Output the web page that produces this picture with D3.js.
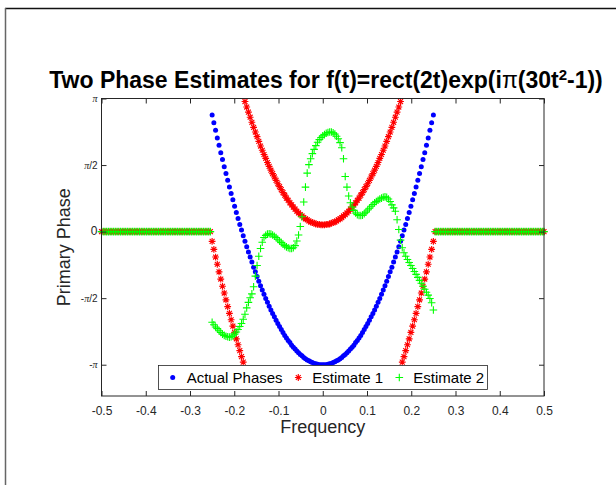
<!DOCTYPE html>
<html><head><meta charset="utf-8">
<script src="https://cdn.jsdelivr.net/npm/d3@7"></script>
<style>body{margin:0;background:#fff}svg{display:block}</style>
</head><body>
<script>
// Frequency grid: samples k/256 for k = -128..128
const freqIndexInside = d3.range(-64, 65);          // |f| <= 0.25
const freqIndexLeft = d3.range(-128, -64);          // f < -0.25
const freqIndexRight = d3.range(65, 129);           // f > 0.25
const freqStep = 1 / 256;

// Actual phases (k = -64..64)
const actualPhases = [2.75,2.57,2.39,2.21,2.04,1.86,1.70,1.53,1.37,1.21,1.05,0.90,0.75,0.60,0.45,0.31,0.17,0.04,-0.10,-0.23,-0.36,-0.48,-0.60,-0.72,-0.84,-0.95,-1.06,-1.17,-1.28,-1.38,-1.48,-1.58,-1.67,-1.76,-1.85,-1.93,-2.01,-2.09,-2.17,-2.24,-2.31,-2.38,-2.45,-2.51,-2.57,-2.62,-2.68,-2.73,-2.77,-2.82,-2.86,-2.90,-2.93,-2.97,-3.00,-3.03,-3.05,-3.07,-3.09,-3.11,-3.12,-3.13,-3.14,-3.14,
-3.14,
-3.14,-3.14,-3.13,-3.12,-3.11,-3.09,-3.07,-3.05,-3.03,-3.00,-2.97,-2.93,-2.90,-2.86,-2.82,-2.77,-2.73,-2.68,-2.62,-2.57,-2.51,-2.45,-2.38,-2.31,-2.24,-2.17,-2.09,-2.01,-1.93,-1.85,-1.76,-1.67,-1.58,-1.48,-1.38,-1.28,-1.17,-1.06,-0.95,-0.84,-0.72,-0.60,-0.48,-0.36,-0.23,-0.10,0.04,0.17,0.31,0.45,0.60,0.75,0.90,1.05,1.21,1.37,1.53,1.70,1.86,2.04,2.21,2.39,2.57,2.75];

// Estimate 1 (k = -64..64)
const estimate1 = [-0.23,-0.42,-0.60,-0.77,-0.95,-1.12,-1.29,-1.45,-1.61,-1.77,-1.93,-2.08,-2.23,-2.38,-2.53,-2.67,-2.81,-2.95,-3.08,3.07,2.94,2.82,2.70,2.58,2.46,2.35,2.24,2.13,2.02,1.92,1.82,1.73,1.63,1.54,1.45,1.37,1.29,1.21,1.13,1.06,0.99,0.92,0.86,0.79,0.74,0.68,0.63,0.58,0.53,0.48,0.44,0.40,0.37,0.33,0.30,0.28,0.25,0.23,0.21,0.20,0.18,0.17,0.17,0.16,
0.16,
0.16,0.17,0.17,0.18,0.20,0.21,0.23,0.25,0.28,0.30,0.33,0.37,0.40,0.44,0.48,0.53,0.58,0.63,0.68,0.74,0.79,0.86,0.92,0.99,1.06,1.13,1.21,1.29,1.37,1.45,1.54,1.63,1.73,1.82,1.92,2.02,2.13,2.24,2.35,2.46,2.58,2.70,2.82,2.94,3.07,-3.08,-2.95,-2.81,-2.67,-2.53,-2.38,-2.23,-2.08,-1.93,-1.77,-1.61,-1.45,-1.29,-1.12,-0.95,-0.77,-0.60,-0.42,-0.23];

// Estimate 2 (k = -64..64)
const estimate2 = [-2.14,-2.20,-2.25,-2.29,-2.34,-2.38,-2.42,-2.45,-2.47,-2.48,-2.49,-2.48,-2.46,-2.42,-2.37,-2.31,-2.24,-2.17,-2.07,-1.95,-1.80,-1.67,-1.56,-1.47,-1.30,-1.05,-0.80,-0.58,-0.40,-0.25,-0.14,-0.09,-0.06,-0.05,-0.06,-0.08,-0.11,-0.14,-0.18,-0.22,-0.26,-0.30,-0.33,-0.36,-0.38,-0.40,-0.40,-0.38,-0.33,-0.22,-0.08,0.12,0.35,0.70,1.05,1.38,1.58,1.72,1.84,1.94,2.03,2.11,2.17,2.22,
2.26,2.29,2.32,2.34,2.35,2.35,2.33,2.30,2.25,2.19,2.10,1.98,1.72,1.30,1.05,0.84,0.68,0.58,0.50,0.44,0.40,0.38,0.38,0.39,0.42,0.46,0.51,0.55,0.60,0.64,0.68,0.71,0.74,0.77,0.79,0.81,0.82,0.81,0.77,0.71,0.63,0.56,0.48,0.28,0.05,-0.20,-0.38,-0.50,-0.58,-0.66,-0.73,-0.80,-0.87,-0.94,-1.01,-1.08,-1.15,-1.22,-1.29,-1.36,-1.43,-1.50,-1.58,-1.68,-1.85];

// Outside the band both estimates read 0
const flatPhase = 0;

const xTicks = [-0.5,-0.4,-0.3,-0.2,-0.1,0,0.1,0.2,0.3,0.4,0.5];
const xTickLabels = ["-0.5","-0.4","-0.3","-0.2","-0.1","0","0.1","0.2","0.3","0.4","0.5"];
const yTicks = [-Math.PI, -Math.PI/2, 0, Math.PI/2, Math.PI];
const yTickLabels = [["-","π",""],["-","π","/2"],["","","0"],["","π","/2"],["","π",""]];
const legendLabels = ["Actual Phases","Estimate 1","Estimate 2"];
const seriesColors = ["#0000ff","#ff0000","#00ff00"];

const W = 616, H = 485;
const L = 101.5, R = 544, T = 98.5, B = 396;
const svg = d3.select("body").append("svg").attr("width", W).attr("height", H)
  .style("font-family", "Arial, 'Liberation Sans', Helvetica, sans-serif");

// figure frame (top and left edges)
svg.append("line").attr("x1",5).attr("x2",616).attr("y1",8.5).attr("y2",8.5).attr("stroke","#111").attr("stroke-width",1.5);
svg.append("line").attr("x1",5.5).attr("x2",5.5).attr("y1",8).attr("y2",485).attr("stroke","#666").attr("stroke-width",1.5);

const x = d3.scaleLinear().domain([-0.5, 0.5]).range([L, R]);
const y = d3.scaleLinear().domain([-3.88, Math.PI]).range([B, T]);

const inside = freqIndexInside.map((k, i) => ({f: k * freqStep, a: actualPhases[i], e1: estimate1[i], e2: estimate2[i]}));
const flat = freqIndexLeft.concat(freqIndexRight).map(k => ({f: k * freqStep, e1: flatPhase, e2: flatPhase}));

const plot = svg.append("g");
const clipId = "clip";
svg.append("clipPath").attr("id", clipId).append("rect").attr("x", L - 6).attr("y", T - 6).attr("width", R - L + 12).attr("height", B - T + 6);
plot.attr("clip-path", `url(#${clipId})`);

// Actual phases: blue dots
plot.append("g").selectAll("circle").data(inside).join("circle")
  .attr("cx", d => x(d.f)).attr("cy", d => y(d.a)).attr("r", 2.5).attr("fill", seriesColors[0]);

// Estimate 1: red asterisks
const starPath = s => `M${-s},0H${s}M0,${-s}V${s}M${-s*0.72},${-s*0.72}L${s*0.72},${s*0.72}M${-s*0.72},${s*0.72}L${s*0.72},${-s*0.72}`;
const plusPath = s => `M${-s},0H${s}M0,${-s}V${s}`;
const e1 = inside.map(d => ({f: d.f, v: d.e1})).concat(flat.map(d => ({f: d.f, v: d.e1})));
plot.append("g").selectAll("path").data(e1).join("path")
  .attr("transform", d => `translate(${x(d.f)},${y(d.v)})`).attr("d", starPath(3.4))
  .attr("stroke", seriesColors[1]).attr("stroke-width", 1.15).attr("fill", "none");

// Estimate 2: green plus
const e2 = inside.map(d => ({f: d.f, v: d.e2})).concat(flat.map(d => ({f: d.f, v: d.e2})));
plot.append("g").selectAll("path").data(e2).join("path")
  .attr("transform", d => `translate(${x(d.f)},${y(d.v)})`).attr("d", plusPath(3.8))
  .attr("stroke", seriesColors[2]).attr("stroke-width", 1.1).attr("fill", "none");

// axes box
const axisColor = "#262626";
svg.append("rect").attr("x", L).attr("y", T).attr("width", R - L).attr("height", B - T)
  .attr("fill", "none").attr("stroke", axisColor).attr("stroke-width", 1);

const xb = svg.append("g").attr("transform", `translate(0,${B})`)
  .call(d3.axisBottom(x).tickValues(xTicks).tickSize(-5).tickPadding(10).tickFormat((d, i) => xTickLabels[i]));
const xt = svg.append("g").attr("transform", `translate(0,${T})`)
  .call(d3.axisTop(x).tickValues(xTicks).tickSize(-5).tickFormat(""));
const yl = svg.append("g").attr("transform", `translate(${L},0)`)
  .call(d3.axisLeft(y).tickValues(yTicks).tickSize(-5).tickPadding(9).tickFormat(""));
const yr = svg.append("g").attr("transform", `translate(${R},0)`)
  .call(d3.axisRight(y).tickValues(yTicks).tickSize(-5).tickFormat(""));
[xb, xt, yl, yr].forEach(g => {
  g.select(".domain").remove();
  g.selectAll(".tick line").attr("stroke", axisColor);
});
xb.selectAll(".tick text").attr("fill", axisColor).style("font-size", "12px").style("font-family", "Arial, 'Liberation Sans', sans-serif");

// y tick labels with pi glyph
yl.selectAll(".tick").each(function(d, i) {
  const lab = yTickLabels[i];
  const t = d3.select(this).select("text").text(null)
    .attr("fill", axisColor).attr("x", -4).attr("dy", "0.32em").attr("text-anchor", "end");
  if (lab[0]) t.append("tspan").text(lab[0]).style("font-size", "10px");
  if (lab[1]) t.append("tspan").text(lab[1]).style("font-size", "10px").style("font-family", "'Liberation Serif', 'DejaVu Serif', serif").style("font-style", "italic");
  if (lab[2]) t.append("tspan").text(lab[2]).style("font-size", lab[2] === "0" ? "12px" : "10px");
});

// title
const title = svg.append("text").attr("x", 326).attr("y", 88).attr("text-anchor", "middle")
  .style("font-size", "23px").style("font-weight", "bold").attr("fill", "#000");
title.append("tspan").text("Two Phase Estimates for f(t)=rect(2t)exp(i");
title.append("tspan").text("π").style("font-weight", "normal");
title.append("tspan").text("(30t");
title.append("tspan").text("2").attr("dy", "-8").style("font-size", "15px");
title.append("tspan").text("-1))").attr("dy", "8");

// axis labels
svg.append("text").attr("x", (L + R) / 2).attr("y", 433).attr("text-anchor", "middle")
  .style("font-size", "18px").attr("fill", axisColor).text("Frequency");
svg.append("text").attr("transform", `translate(70,${(T + B) / 2}) rotate(-90)`).attr("text-anchor", "middle")
  .style("font-size", "18px").attr("fill", axisColor).text("Primary Phase");

// legend
const lg = svg.append("g");
lg.append("rect").attr("x", 158.5).attr("y", 365.5).attr("width", 329).attr("height", 24)
  .attr("fill", "#fff").attr("stroke", axisColor).attr("stroke-width", 0.8);
const legX = [172.7, 298.3, 399.3];
const legY = 377.5;
lg.append("circle").attr("cx", legX[0]).attr("cy", legY).attr("r", 2.5).attr("fill", seriesColors[0]);
lg.append("path").attr("transform", `translate(${legX[1]},${legY})`).attr("d", starPath(3.4)).attr("stroke", seriesColors[1]).attr("stroke-width", 1.15).attr("fill", "none");
lg.append("path").attr("transform", `translate(${legX[2]},${legY})`).attr("d", plusPath(3.8)).attr("stroke", seriesColors[2]).attr("stroke-width", 1.1).attr("fill", "none");
legendLabels.forEach((t, i) => {
  lg.append("text").attr("x", legX[i] + 14).attr("y", legY + 5.3).style("font-size", "15px").attr("fill", "#000").text(t);
});
</script>
</body></html>
